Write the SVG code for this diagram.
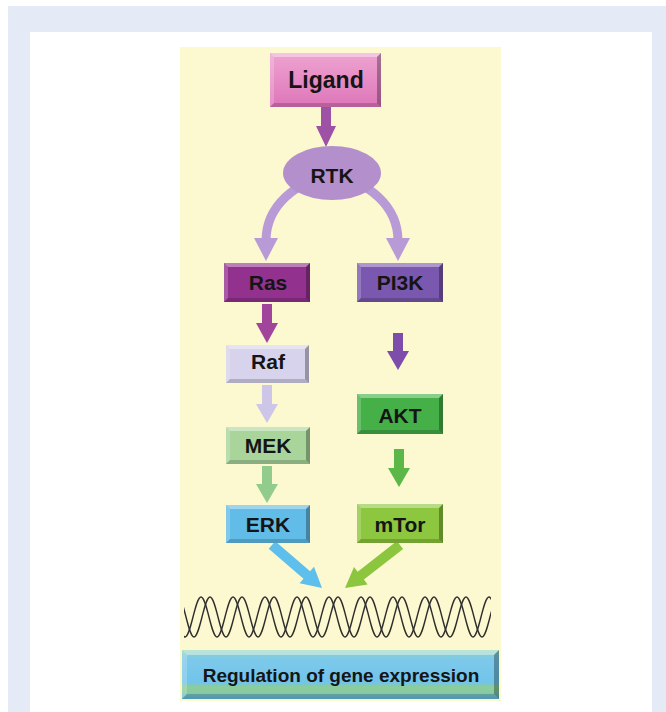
<svg xmlns="http://www.w3.org/2000/svg" width="666" height="712" viewBox="0 0 666 712">
<style>
.lbl{font-family:"Liberation Sans",Arial,sans-serif;font-weight:bold;font-size:21px;fill:#151515;text-anchor:middle}
.hl{fill:#fff;fill-opacity:.38}
.hl2{fill:#fff;fill-opacity:.2}
.sh{fill:#000;fill-opacity:.3}
.sh2{fill:#000;fill-opacity:.18}
.dna{fill:none;stroke:#2e2e2e;stroke-width:1.4}
</style>
<defs>
<linearGradient id="gBot" x1="0" y1="0" x2="0" y2="1">
<stop offset="0" stop-color="#93D5BA"/>
<stop offset="0.18" stop-color="#7DC9EA"/>
<stop offset="0.66" stop-color="#72C4EB"/>
<stop offset="0.76" stop-color="#8ECD94"/>
<stop offset="0.86" stop-color="#86CBA8"/>
<stop offset="1" stop-color="#5FB7E2"/>
</linearGradient>
<linearGradient id="gLig" x1="0" y1="0" x2="0" y2="1">
<stop offset="0" stop-color="#EEA3D1"/>
<stop offset="1" stop-color="#DE76B9"/>
</linearGradient>
<clipPath id="dnaClip"><rect x="184" y="590" width="307" height="55"/></clipPath>
<path id="strand" d="M169,597 C174.83,597 179.17,637 185,637 S195.17,597 201,597 S211.17,637 217,637 S227.17,597 233,597 S243.17,637 249,637 S259.17,597 265,597 S275.17,637 281,637 S291.17,597 297,597 S307.17,637 313,637 S323.17,597 329,597 S339.17,637 345,637 S355.17,597 361,597 S371.17,637 377,637 S387.17,597 393,597 S403.17,637 409,637 S419.17,597 425,597 S435.17,637 441,637 S451.17,597 457,597 S467.17,637 473,637 S483.17,597 489,597 S499.17,637 505,637"/>
</defs>

<rect x="0" y="0" width="666" height="712" fill="#fff"/>
<rect x="8" y="6" width="658" height="706" fill="#E4EAF6"/>
<rect x="30" y="32" width="622" height="680" fill="#fff"/>
<rect x="180" y="47" width="321" height="654" fill="#FCF8CF"/>

<g id="connectors">
<polygon fill="#9E52A6" points="321,107 331,107 331,126 336,126 326,147 316,126 321,126"/>
<path d="M266,241 A66,62 0 0 1 398,241" fill="none" stroke="#B89BD6" stroke-width="9"/>
<polygon fill="#B89BD6" points="254,238 278,238 266,261"/>
<polygon fill="#B89BD6" points="386,238 410,238 398,261"/>
<polygon fill="#A0449C" points="262,304 272,304 272,323 278,323 267,343 256,323 262,323"/>
<polygon fill="#7E4DAB" points="393,333 403,333 403,351 409,351 398,370 387,351 393,351"/>
<polygon fill="#CEC6E8" points="262,385 272,385 272,404 278,404 267,423 256,404 262,404"/>
<polygon fill="#5BB748" points="394,449 404,449 404,468 410,468 399,487 388,468 394,468"/>
<polygon fill="#92CC8C" points="262,466 272,466 272,484 278,484 267,503 256,484 262,484"/>
<polygon fill="#5FBFEC" points="268.7,548.8 275.3,541.2 310.1,571.2 314,566.7 322,588 299.6,583.3 303.5,578.8"/>
<polygon fill="#8CC63E" points="396.9,541.1 403.1,548.9 363.9,579.6 367.6,584.4 345,588 354,567 357.7,571.8"/>
</g>

<g id="ligand">
<rect x="270" y="53" width="111" height="54" fill="url(#gLig)"/>
<polygon class="hl" points="270,53 381,53 377,57 274,57"/>
<polygon class="hl2" points="270,53 274,57 274,103 270,107"/>
<polygon class="sh" points="381,53 381,107 377,103 377,57"/>
<polygon class="sh2" points="270,107 381,107 377,103 274,103"/>
<text class="lbl" x="326" y="88" style="font-size:23px">Ligand</text>
</g>

<g id="rtk">
<ellipse cx="332" cy="173" rx="49" ry="27" fill="#B38FCB"/>
<text class="lbl" x="332" y="183">RTK</text>
</g>

<g id="ras">
<rect x="224" y="263" width="86" height="39" fill="#93318F"/>
<polygon class="hl" points="224,263 310,263 306,267 228,267"/>
<polygon class="hl2" points="224,263 228,267 228,298 224,302"/>
<polygon class="sh" points="310,263 310,302 306,298 306,267"/>
<polygon class="sh2" points="224,302 310,302 306,298 228,298"/>
<text class="lbl" x="268" y="290">Ras</text>
</g>

<g id="pi3k">
<rect x="357" y="263" width="86" height="39" fill="#7B58AF"/>
<polygon class="hl" points="357,263 443,263 439,267 361,267"/>
<polygon class="hl2" points="357,263 361,267 361,298 357,302"/>
<polygon class="sh" points="443,263 443,302 439,298 439,267"/>
<polygon class="sh2" points="357,302 443,302 439,298 361,298"/>
<text class="lbl" x="400" y="290">PI3K</text>
</g>

<g id="raf">
<rect x="226" y="345" width="83" height="38" fill="#D7D3EC"/>
<polygon class="hl" points="226,345 309,345 305,349 230,349"/>
<polygon class="hl2" points="226,345 230,349 230,379 226,383"/>
<polygon class="sh" points="309,345 309,383 305,379 305,349"/>
<polygon class="sh2" points="226,383 309,383 305,379 230,379"/>
<text class="lbl" x="268" y="369">Raf</text>
</g>

<g id="mek">
<rect x="226" y="427" width="84" height="37" fill="#A9D59B"/>
<polygon class="hl" points="226,427 310,427 306,431 230,431"/>
<polygon class="hl2" points="226,427 230,431 230,460 226,464"/>
<polygon class="sh" points="310,427 310,464 306,460 306,431"/>
<polygon class="sh2" points="226,464 310,464 306,460 230,460"/>
<text class="lbl" x="268" y="453">MEK</text>
</g>

<g id="akt">
<rect x="357" y="394" width="86" height="40" fill="#45AF48"/>
<polygon class="hl" points="357,394 443,394 439,398 361,398"/>
<polygon class="hl2" points="357,394 361,398 361,430 357,434"/>
<polygon class="sh" points="443,394 443,434 439,430 439,398"/>
<polygon class="sh2" points="357,434 443,434 439,430 361,430"/>
<text class="lbl" x="400" y="423">AKT</text>
</g>

<g id="erk">
<rect x="226" y="505" width="84" height="38" fill="#62BCE8"/>
<polygon class="hl" points="226,505 310,505 306,509 230,509"/>
<polygon class="hl2" points="226,505 230,509 230,539 226,543"/>
<polygon class="sh" points="310,505 310,543 306,539 306,509"/>
<polygon class="sh2" points="226,543 310,543 306,539 230,539"/>
<text class="lbl" x="268" y="532">ERK</text>
</g>

<g id="mtor">
<rect x="357" y="504" width="86" height="39" fill="#8DC63F"/>
<polygon class="hl" points="357,504 443,504 439,508 361,508"/>
<polygon class="hl2" points="357,504 361,508 361,539 357,543"/>
<polygon class="sh" points="443,504 443,543 439,539 439,508"/>
<polygon class="sh2" points="357,543 443,543 439,539 361,539"/>
<text class="lbl" x="400" y="532">mTor</text>
</g>

<g id="dna" clip-path="url(#dnaClip)">
<use href="#strand" class="dna"/>
<use href="#strand" class="dna" transform="translate(9,0)"/>
</g>

<g id="regulation">
<rect x="182" y="650" width="317" height="49" fill="url(#gBot)"/>
<polygon class="hl" points="182,650 499,650 494,655 187,655"/>
<polygon class="hl2" points="182,650 187,655 187,694 182,699"/>
<polygon class="sh" points="499,650 499,699 494,694 494,655"/>
<polygon class="sh2" points="182,699 499,699 494,694 187,694"/>
<text class="lbl" x="341" y="682" style="font-size:19px">Regulation of gene expression</text>
</g>
</svg>
